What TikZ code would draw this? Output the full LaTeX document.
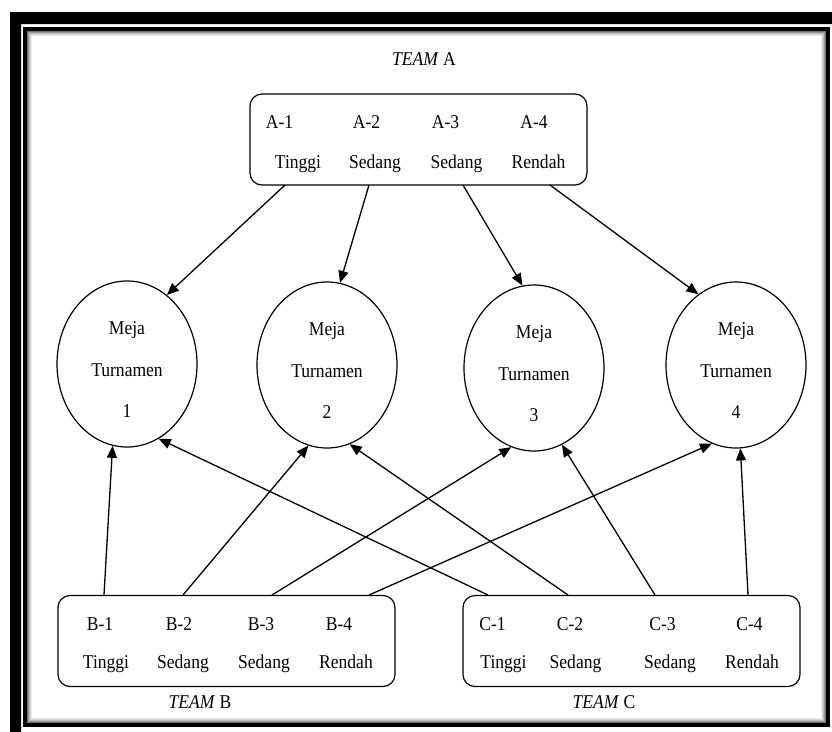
\documentclass[tikz,border=0pt]{standalone}
\usepackage{fontspec}
\setmainfont[FakeStretch=0.9]{Liberation Serif}
\usetikzlibrary{arrows.meta,shapes.geometric}

\tikzset{
  lbl/.style={font=\fontsize{19.5}{23}\selectfont, anchor=base, inner sep=0pt},
  team/.style={draw, rounded corners=12pt, line width=1.2pt, minimum width=337pt, minimum height=91pt},
  meja/.style={draw, ellipse, line width=1.2pt, minimum width=140pt, minimum height=166pt, inner sep=0pt},
  arr/.style={-{Triangle[length=12pt,width=10pt]}, line width=1.3pt}
}

\begin{document}
\begin{tikzpicture}[x=1pt, y=-1pt]
    \useasboundingbox (0,0) rectangle (832,731);

    % frame
    \fill[even odd rule] (10,12) rectangle (850,750) (21,24) rectangle (840,745);
    \draw[line width=3.5pt] (25,29) rectangle (828,725);
    \foreach \k/\c in {1/55, 2/40, 3/27, 4/16, 5/8}
        \draw[black!\c, line width=1.1pt] (26.75+\k,30.75+\k) rectangle (826.25-\k,723.25-\k);

    % teams
    \node[team] (boxA) at (418.5,139.5) {};
    \node[team] (boxB) at (226.5,641) {};
    \node[team] (boxC) at (631.5,641) {};

    \node[lbl] (teamA) at (424,65) {\textit{TEAM} A};
    \node[lbl] (teamB) at (200,708) {\textit{TEAM} B};
    \node[lbl] (teamC) at (604,708) {\textit{TEAM} C};

    \node[lbl] (a1) at (279.5,128) {A-1};
    \node[lbl] (a2) at (366.5,128) {A-2};
    \node[lbl] (a3) at (445.5,128) {A-3};
    \node[lbl] (a4) at (534,128) {A-4};
    \node[lbl] (ta1) at (298,168) {Tinggi};
    \node[lbl] (ta2) at (375,168) {Sedang};
    \node[lbl] (ta3) at (456.5,168) {Sedang};
    \node[lbl] (ta4) at (538.5,168) {Rendah};

    \node[lbl] (b1) at (100,630) {B-1};
    \node[lbl] (b2) at (179,630) {B-2};
    \node[lbl] (b3) at (261,630) {B-3};
    \node[lbl] (b4) at (339,630) {B-4};
    \node[lbl] (tb1) at (106,668) {Tinggi};
    \node[lbl] (tb2) at (183,668) {Sedang};
    \node[lbl] (tb3) at (264,668) {Sedang};
    \node[lbl] (tb4) at (346,668) {Rendah};

    \node[lbl] (c1) at (492.5,630) {C-1};
    \node[lbl] (c2) at (570,630) {C-2};
    \node[lbl] (c3) at (662.5,630) {C-3};
    \node[lbl] (c4) at (749.5,630) {C-4};
    \node[lbl] (tc1) at (503.5,668) {Tinggi};
    \node[lbl] (tc2) at (575.5,668) {Sedang};
    \node[lbl] (tc3) at (670,668) {Sedang};
    \node[lbl] (tc4) at (752,668) {Rendah};

    % meja turnamen
    \foreach \i/\x/\y in {1/127/364, 2/327/365, 3/534/368, 4/736/365} {
        \node[meja] (m\i) at (\x,\y) {};
        \node[lbl] at (\x,\y-30) {Meja};
        \node[lbl] at (\x,\y+12) {Turnamen};
        \node[lbl] at (\x,\y+53) {\i};
    }

    % arrow starts
    \coordinate (A1) at (285,185);
    \coordinate (A2) at (369,185);
    \coordinate (A3) at (463,185);
    \coordinate (A4) at (550,185);
    \coordinate (B1) at (104,595);
    \coordinate (B2) at (183,595);
    \coordinate (B3) at (272,595);
    \coordinate (B4) at (369,595);
    \coordinate (C1) at (488,595);
    \coordinate (C2) at (568,595);
    \coordinate (C3) at (655,595);
    \coordinate (C4) at (748,595);

    \draw[arr] (A1) -- (m1.60);
    \draw[arr] (A2) -- (m2.81);
    \draw[arr] (A3) -- (m3.98);
    \draw[arr] (A4) -- (m4.118);

    \draw[arr] (B1) -- (m1.-100);
    \draw[arr] (B2) -- (m2.-103);
    \draw[arr] (B3) -- (m3.-106.5);
    \draw[arr] (B4) -- (m4.-107);

    \draw[arr] (C1) -- (m1.-67);
    \draw[arr] (C2) -- (m2.-74);
    \draw[arr] (C3) -- (m3.-70);
    \draw[arr] (C4) -- (m4.-87);
\end{tikzpicture}
\end{document}
